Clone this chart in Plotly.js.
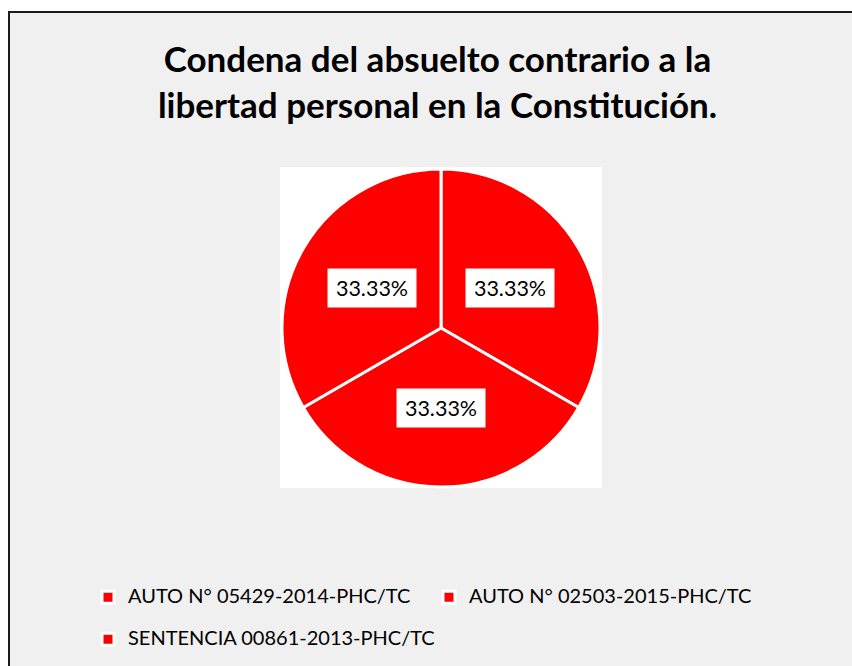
<!DOCTYPE html>
<html>
<head>
<meta charset="utf-8">
<script src="https://cdn.plot.ly/plotly-3.0.1.min.js"></script>
<style>html,body{margin:0;padding:0;background:#fff;}#chart{width:852px;height:666px;}</style>
</head>
<body>
<div id="chart"></div>
<script>
// ---- data ----
const categories = ["AUTO N° 05429-2014-PHC/TC", "AUTO N° 02503-2015-PHC/TC", "SENTENCIA 00861-2013-PHC/TC"];
const values = [1, 1, 1];
const sliceColors = ["#ff0000", "#ff0000", "#ff0000"];
const chartTitle = "Condena del absuelto contrario a la<br>libertad personal en la Constitución.";

// ---- layout constants (pixels) ----
const W = 852, H = 666;
const pieCx = 441, pieCy = 328, pieR = 159;
const labelRadiusFrac = 0.5;
const FONT = 'Lato, "Liberation Sans", sans-serif';

const total = values.reduce((a, b) => a + b, 0);
let cum = 0;
const annotations = values.map((v) => {
  const mid = (cum + v / 2) / total * 2 * Math.PI;
  cum += v;
  const px = pieCx + pieR * labelRadiusFrac * Math.sin(mid);
  const py = pieCy - pieR * labelRadiusFrac * Math.cos(mid);
  return {
    xref: 'paper', yref: 'paper', x: px / W, y: 1 - py / H,
    xanchor: 'center', yanchor: 'middle', showarrow: false,
    text: (v / total * 100).toFixed(2) + '%',
    font: {family: FONT, size: 21.5, color: '#000'},
    bgcolor: '#ffffff', borderpad: 5, width: 78, height: 28
  };
});

const trace = {
  type: 'pie',
  labels: categories.map(c => '<span style="font-size:20px">' + c + '</span><br>&nbsp;'),
  values: values,
  sort: false,
  direction: 'clockwise',
  rotation: 0,
  textinfo: 'none',
  hoverinfo: 'label+percent',
  marker: {colors: sliceColors, line: {color: '#ffffff', width: 3}},
  domain: {x: [(pieCx - pieR) / W, (pieCx + pieR) / W], y: [1 - (pieCy + pieR) / H, 1 - (pieCy - pieR) / H]}
};

const layout = {
  width: W, height: H,
  margin: {l: 0, r: 0, t: 0, b: 0, autoexpand: false},
  paper_bgcolor: '#ffffff',
  font: {family: FONT, color: '#000'},
  title: {
    text: '<b>' + chartTitle + '</b>',
    font: {family: FONT, size: 35, color: '#000'},
    x: 437.5 / W, xanchor: 'center', xref: 'paper',
    y: 1 - 72 / H, yanchor: 'top', yref: 'container'
  },
  showlegend: true,
  legend: {
    orientation: 'h', xref: 'container', yref: 'container',
    x: 88 / W, xanchor: 'left', y: 1 - 581 / H, yanchor: 'top',
    font: {family: FONT, size: 15, color: '#000'},
    bgcolor: 'rgba(0,0,0,0)', valign: 'top',
    entrywidth: 296, entrywidthmode: 'pixels', traceorder: 'normal'
  },
  shapes: [
    {type: 'rect', xref: 'paper', yref: 'paper', x0: 9 / W, x1: 1.05, y0: -0.05, y1: 1 - 12 / H,
     fillcolor: '#f0f0f0', line: {color: '#1a1a1a', width: 2}, layer: 'below'},
    {type: 'rect', xref: 'paper', yref: 'paper', x0: 280 / W, x1: 602 / W, y0: 1 - 488 / H, y1: 1 - 167 / H,
     fillcolor: '#ffffff', line: {width: 0}, layer: 'below'}
  ],
  annotations: annotations
};

Plotly.newPlot('chart', [trace], layout, {displayModeBar: false, staticPlot: true});
</script>
</body>
</html>
